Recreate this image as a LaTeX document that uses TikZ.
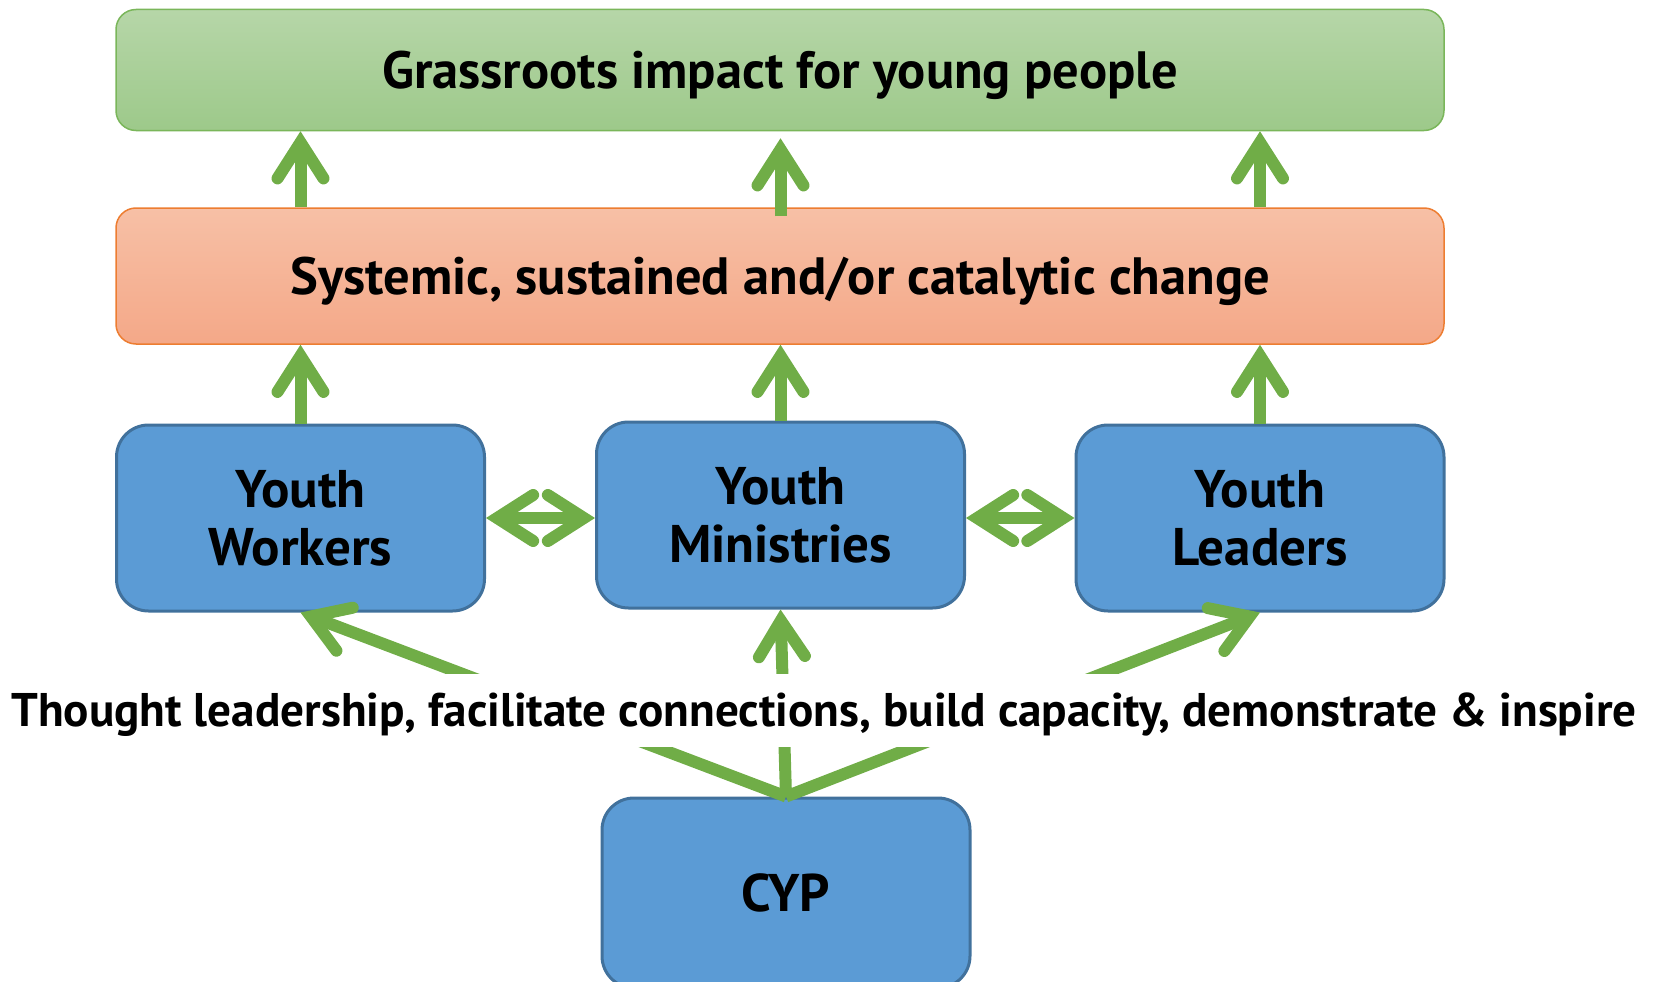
\documentclass[tikz,border=0pt]{standalone}
\usepackage{fontspec}
\setmainfont{PT Sans}
\usetikzlibrary{arrows.meta}
\definecolor{arrowgreen}{RGB}{112,173,71}
\definecolor{greentop}{RGB}{182,214,168}
\definecolor{greenbot}{RGB}{157,201,138}
\definecolor{greenline}{RGB}{122,182,90}
\definecolor{orangetop}{RGB}{247,192,166}
\definecolor{orangebot}{RGB}{244,168,136}
\definecolor{orangeline}{RGB}{237,125,49}
\definecolor{bluefill}{RGB}{91,155,213}
\definecolor{blueline}{RGB}{65,113,156}
\tikzset{
  topbox/.style={rounded corners=20pt, line width=1.5pt, minimum width=1328pt, inner sep=0pt, text depth=0pt, font=\bfseries\fontsize{52.5}{58}\selectfont},
  bluebox/.style={rounded corners=32pt, line width=3pt, draw=blueline, fill=bluefill, minimum width=368pt, minimum height=186pt, inner sep=0pt, align=center, font=\bfseries\fontsize{53}{58}\selectfont},
  arr/.style={line width=12pt, draw=arrowgreen, -{Straight Barb[length=36pt, width=46pt, line cap=round, line join=miter]}},
  darr/.style={line width=12pt, draw=arrowgreen, {Straight Barb[length=36pt, width=46pt, line cap=round, line join=miter]}-{Straight Barb[length=36pt, width=46pt, line cap=round, line join=miter]}},
}
\begin{document}
\begin{tikzpicture}[x=1pt,y=-1pt]
\useasboundingbox (0,0) rectangle (1657,982);
\clip (0,0) rectangle (1657,982);
\node[topbox, draw=greenline, top color=greentop, bottom color=greenbot, minimum height=121pt] (g) at (780,70) {Grassroots impact for young people};
\node[topbox, draw=orangeline, top color=orangetop, bottom color=orangebot, minimum height=136pt] (o) at (780,276) {Systemic, sustained and/or catalytic change};
\node[bluebox] (yw) at (300.5,518) {Youth\\Workers};
\node[bluebox] (ym) at (780.5,515) {Youth\\Ministries};
\node[bluebox] (yl) at (1260,518) {Youth\\Leaders};
\node[bluebox, minimum height=190pt] (cyp) at (786,893) {CYP};
% up arrows orange -> green
\draw[arr] (o.north -| yw.north) -- (g.south -| yw.north);
\draw[arr] ([yshift=-9pt]o.north -| ym.north) -- ([yshift=-7pt]g.south -| ym.north);
\draw[arr] (o.north -| yl.north) -- (g.south -| yl.north);
% up arrows blue -> orange
\draw[arr] (yw.north) -- (o.south -| yw.north);
\draw[arr] (ym.north) -- (o.south -| ym.north);
\draw[arr] (yl.north) -- (o.south -| yl.north);
% double arrows
\draw[darr] (yw.east) -- (yw.east -| ym.west);
\draw[darr] (ym.east |- yl.west) -- (yl.west);
% from CYP
\draw[arr] (cyp.north) -- (yw.south);
\draw[arr] (cyp.north) -- (ym.south);
\draw[arr] (cyp.north) -- (yl.south);
\node[fill=white, minimum height=73pt, inner xsep=4pt, inner ysep=0pt, text depth=0pt, font=\bfseries\fontsize{47.2}{52}\selectfont] (t) at (824,710) {Thought leadership, facilitate connections, build capacity, demonstrate \& inspire};
\end{tikzpicture}
\end{document}
